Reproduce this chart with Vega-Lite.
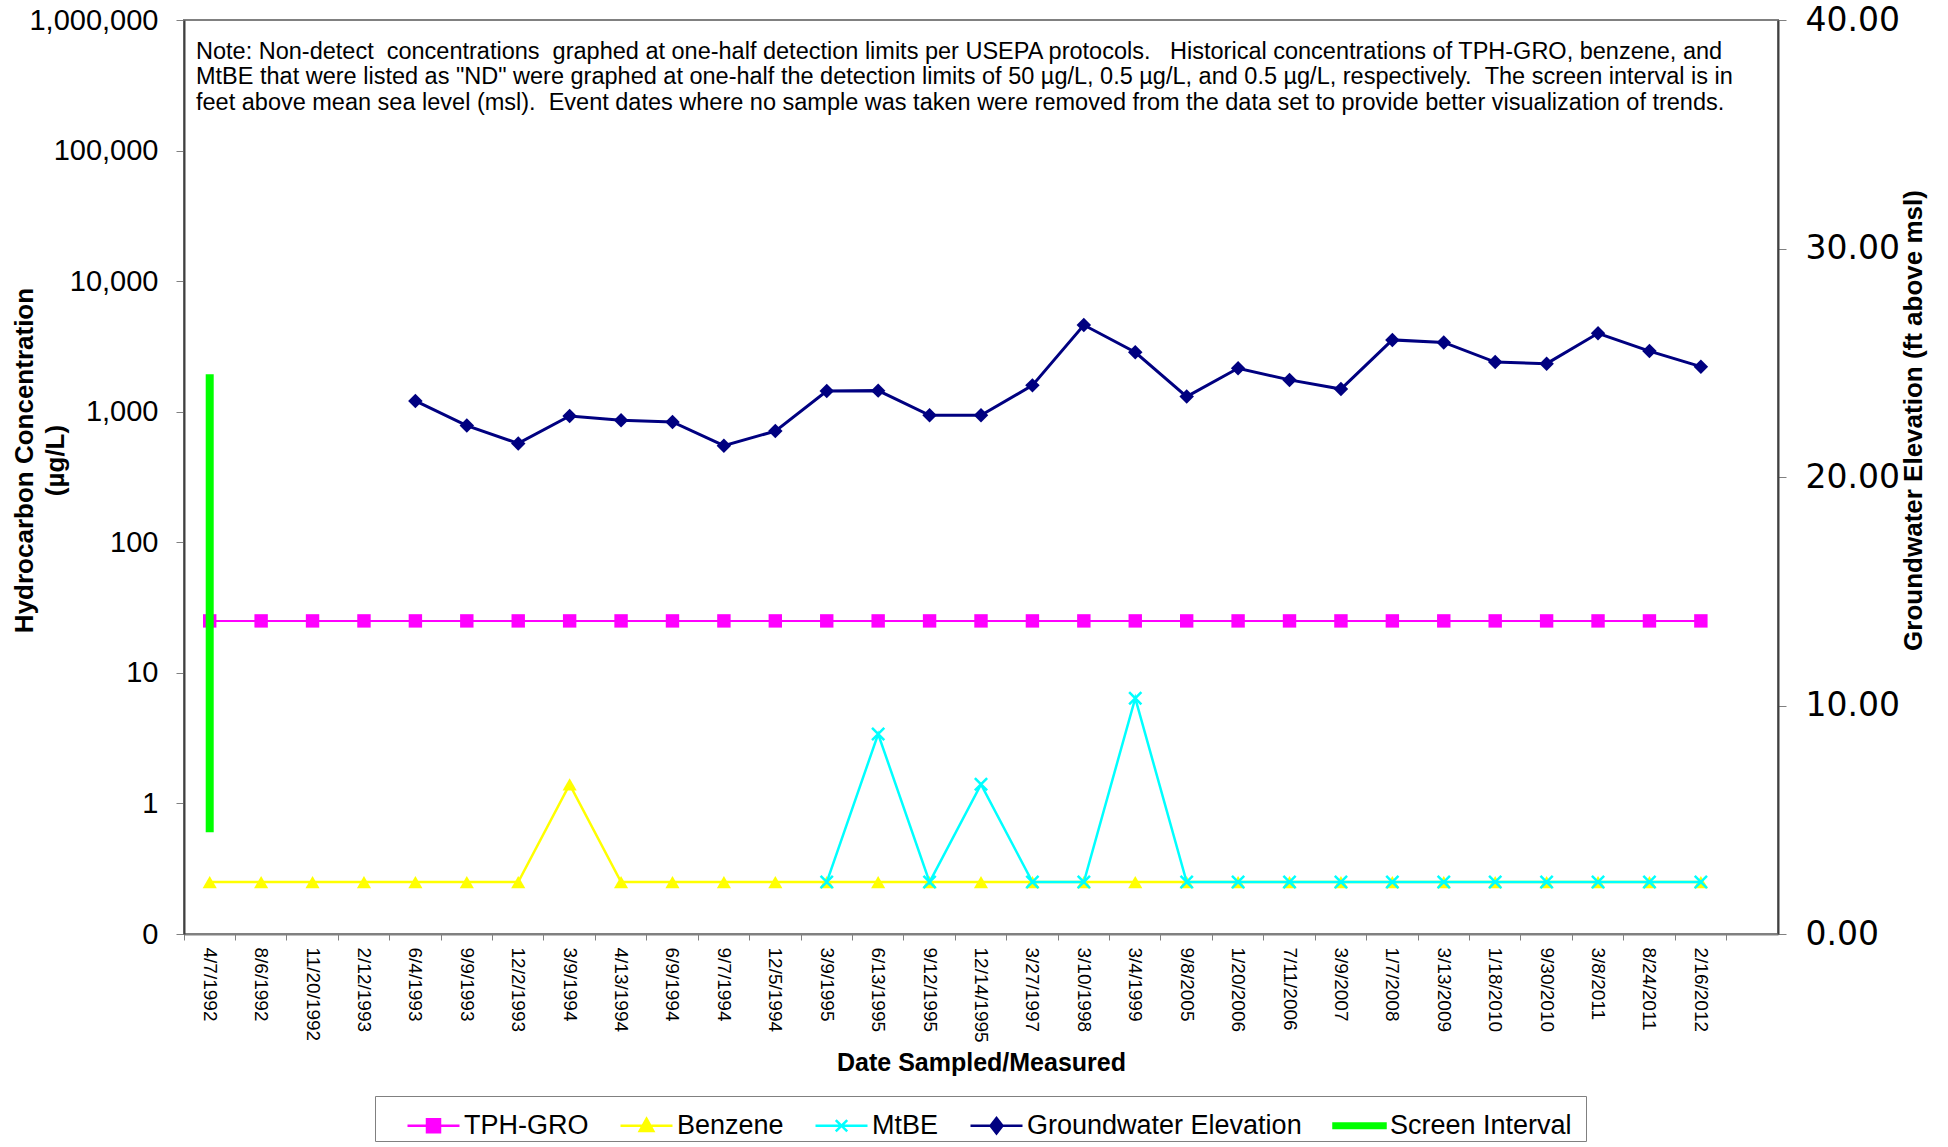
{
  "$schema": "https://vega.github.io/schema/vega-lite/v6.json",
  "width": 1594,
  "height": 914,
  "autosize": {"type": "none"},
  "padding": {"left": 184, "top": 20, "right": 170, "bottom": 213},
  "background": "white",
  "config": {
    "font": "Liberation Sans",
    "view": {"stroke": "#808080", "strokeWidth": 2},
    "axis": {"labelColor": "black", "titleColor": "black", "grid": false}
  },
  "datasets": {
    "main": [
      {"date": "4/7/1992", "tph": 25, "benzene": 0.25, "mtbe": null, "elev": null},
      {"date": "8/6/1992", "tph": 25, "benzene": 0.25, "mtbe": null, "elev": null},
      {"date": "11/20/1992", "tph": 25, "benzene": 0.25, "mtbe": null, "elev": null},
      {"date": "2/12/1993", "tph": 25, "benzene": 0.25, "mtbe": null, "elev": null},
      {"date": "6/4/1993", "tph": 25, "benzene": 0.25, "mtbe": null, "elev": 23.33},
      {"date": "9/9/1993", "tph": 25, "benzene": 0.25, "mtbe": null, "elev": 22.25},
      {"date": "12/2/1993", "tph": 25, "benzene": 0.25, "mtbe": null, "elev": 21.47},
      {"date": "3/9/1994", "tph": 25, "benzene": 1.4, "mtbe": null, "elev": 22.67},
      {"date": "4/13/1994", "tph": 25, "benzene": 0.25, "mtbe": null, "elev": 22.48},
      {"date": "6/9/1994", "tph": 25, "benzene": 0.25, "mtbe": null, "elev": 22.41},
      {"date": "9/7/1994", "tph": 25, "benzene": 0.25, "mtbe": null, "elev": 21.37},
      {"date": "12/5/1994", "tph": 25, "benzene": 0.25, "mtbe": null, "elev": 22.01},
      {"date": "3/9/1995", "tph": 25, "benzene": 0.25, "mtbe": 0.25, "elev": 23.76},
      {"date": "6/13/1995", "tph": 25, "benzene": 0.25, "mtbe": 3.4, "elev": 23.78},
      {"date": "9/12/1995", "tph": 25, "benzene": 0.25, "mtbe": 0.25, "elev": 22.7},
      {"date": "12/14/1995", "tph": 25, "benzene": 0.25, "mtbe": 1.4, "elev": 22.7},
      {"date": "3/27/1997", "tph": 25, "benzene": 0.25, "mtbe": 0.25, "elev": 24.01},
      {"date": "3/10/1998", "tph": 25, "benzene": 0.25, "mtbe": 0.25, "elev": 26.65},
      {"date": "3/4/1999", "tph": 25, "benzene": 0.25, "mtbe": 6.4, "elev": 25.46},
      {"date": "9/8/2005", "tph": 25, "benzene": 0.25, "mtbe": 0.25, "elev": 23.52},
      {"date": "1/20/2006", "tph": 25, "benzene": 0.25, "mtbe": 0.25, "elev": 24.76},
      {"date": "7/11/2006", "tph": 25, "benzene": 0.25, "mtbe": 0.25, "elev": 24.25},
      {"date": "3/9/2007", "tph": 25, "benzene": 0.25, "mtbe": 0.25, "elev": 23.85},
      {"date": "1/7/2008", "tph": 25, "benzene": 0.25, "mtbe": 0.25, "elev": 26.0},
      {"date": "3/13/2009", "tph": 25, "benzene": 0.25, "mtbe": 0.25, "elev": 25.89},
      {"date": "1/18/2010", "tph": 25, "benzene": 0.25, "mtbe": 0.25, "elev": 25.03},
      {"date": "9/30/2010", "tph": 25, "benzene": 0.25, "mtbe": 0.25, "elev": 24.96},
      {"date": "3/8/2011", "tph": 25, "benzene": 0.25, "mtbe": 0.25, "elev": 26.29},
      {"date": "8/24/2011", "tph": 25, "benzene": 0.25, "mtbe": 0.25, "elev": 25.51},
      {"date": "2/16/2012", "tph": 25, "benzene": 0.25, "mtbe": 0.25, "elev": 24.83}
    ]
  },
  "data": {"name": "main"},
  "encoding": {
    "x": {
      "field": "date",
      "type": "ordinal",
      "scale": {
        "type": "band",
        "domain": ["4/7/1992", "8/6/1992", "11/20/1992", "2/12/1993", "6/4/1993", "9/9/1993", "12/2/1993", "3/9/1994", "4/13/1994", "6/9/1994", "9/7/1994", "12/5/1994", "3/9/1995", "6/13/1995", "9/12/1995", "12/14/1995", "3/27/1997", "3/10/1998", "3/4/1999", "9/8/2005", "1/20/2006", "7/11/2006", "3/9/2007", "1/7/2008", "3/13/2009", "1/18/2010", "9/30/2010", "3/8/2011", "8/24/2011", "2/16/2012", "_end"],
        "paddingInner": 0,
        "paddingOuter": 0
      },
      "axis": {
        "title": "Date Sampled/Measured",
        "titleFontSize": 25,
        "titleFontWeight": "bold",
        "titleY": 128,
        "titleBaseline": "middle",
        "labelAngle": 90,
        "labelAlign": "left",
        "labelBaseline": "middle",
        "bandPosition": 0,
        "labelOffset": 0,
        "labelFontSize": 19,
        "labelPadding": 7,
        "tickSize": 6,
        "tickColor": "#808080",
        "domainColor": "#808080",
        "domainWidth": 2,
        "labelExpr": "datum.value == '_end' ? '' : datum.value"
      }
    }
  },
  "layer": [
    {
      "encoding": {
        "y": {
          "field": "value", "type": "quantitative",
          "scale": {"type": "log", "domain": [0.1, 1000000], "nice": false},
          "axis": {
            "values": [0.1, 1, 10, 100, 1000, 10000, 100000, 1000000],
            "labelExpr": "datum.value < 1 ? '0' : format(datum.value, ',')",
            "labelFontSize": 29,
            "labelPadding": 18,
            "tickSize": 8,
            "tickColor": "#808080",
            "domainColor": "#404040",
            "domainWidth": 2,
            "title": ["Hydrocarbon Concentration", "(µg/L)"],
            "titleFontSize": 26,
            "titleFontWeight": "bold",
            "titleAngle": 270,
            "titleX": -160,
            "titleY": 440,
            "titleAlign": "center",
            "titleBaseline": "middle",
            "titleLineHeight": 31
          }
        }
      },
      "layer": [
        {
          "transform": [{"fold": ["tph"], "as": ["series", "value"]}],
          "mark": {"type": "line", "color": "#FF00FF", "strokeWidth": 2}
        },
        {
          "transform": [{"fold": ["tph"], "as": ["series", "value"]}],
          "mark": {"type": "point", "shape": "square", "filled": true, "color": "#FF00FF", "size": 180, "opacity": 1}
        },
        {
          "transform": [{"fold": ["benzene"], "as": ["series", "value"]}],
          "mark": {"type": "line", "color": "#FFFF00", "strokeWidth": 2.5}
        },
        {
          "transform": [{"fold": ["benzene"], "as": ["series", "value"]}],
          "mark": {"type": "point", "shape": "triangle-up", "filled": true, "color": "#FFFF00", "size": 200, "opacity": 1}
        },
        {
          "transform": [{"fold": ["mtbe"], "as": ["series", "value"]}],
          "mark": {"type": "line", "color": "#00FFFF", "strokeWidth": 2.5}
        },
        {
          "transform": [{"fold": ["mtbe"], "as": ["series", "value"]}],
          "mark": {"type": "point", "shape": "M-1,-1L1,1M-1,1L1,-1", "filled": false, "color": "#00FFFF", "strokeWidth": 2.5, "size": 150, "opacity": 1}
        },
        {
          "data": {"values": [{"date": "4/7/1992", "value": 1000000}]},
          "mark": {
            "type": "text",
            "text": [
              "Note: Non-detect \u00a0concentrations \u00a0graphed at one-half detection limits per USEPA protocols. \u00a0 Historical concentrations of TPH-GRO, benzene, and",
              "MtBE that were listed as \"ND\" were graphed at one-half the detection limits of 50 µg/L, 0.5 µg/L, and 0.5 µg/L, respectively. \u00a0The screen interval is in",
              "feet above mean sea level (msl). \u00a0Event dates where no sample was taken were removed from the data set to provide better visualization of trends."
            ],
            "align": "left",
            "baseline": "alphabetic",
            "fontSize": 23.5,
            "lineHeight": 25.5,
            "color": "black",
            "dx": -13.7,
            "dy": 38.5
          }
        },
        {
          "data": {"values": []},
          "mark": {"type": "point", "filled": true, "strokeWidth": 2.5, "opacity": 1},
          "encoding": {
            "fill": {
              "field": "series", "type": "nominal",
              "scale": {"domain": ["TPH-GRO", "Benzene", "MtBE", "Groundwater Elevation", "Screen Interval"], "range": ["#FF00FF", "#FFFF00", "#00FFFF", "#000080", "#00FF00"]},
              "legend": {"orient": "none", "legendX": 191, "legendY": 1076, "direction": "horizontal", "title": "\u00a0", "titleOrient": "right", "titleFontSize": 26, "titlePadding": 12, "symbolSize": 2704, "symbolStrokeWidth": 2.5, "labelFontSize": 27, "labelColor": "black", "labelFont": "Liberation Sans", "labelLimit": 500, "labelOffset": 3, "symbolOffset": 29, "columnPadding": 1, "padding": 2, "strokeColor": "#808080", "fillColor": "white", "symbolOpacity": 1}
            },
            "stroke": {
              "field": "series", "type": "nominal",
              "scale": {"domain": ["TPH-GRO", "Benzene", "MtBE", "Groundwater Elevation", "Screen Interval"], "range": ["#FF00FF", "#FFFF00", "#00FFFF", "#000080", "#00FF00"]},
              "legend": {"orient": "none", "legendX": 191, "legendY": 1076, "direction": "horizontal", "title": "\u00a0", "titleOrient": "right", "titleFontSize": 26, "titlePadding": 12, "symbolSize": 2704, "symbolStrokeWidth": 2.5, "labelFontSize": 27, "labelColor": "black", "labelFont": "Liberation Sans", "labelLimit": 500, "labelOffset": 3, "symbolOffset": 29, "columnPadding": 1, "padding": 2, "strokeColor": "#808080", "fillColor": "white", "symbolOpacity": 1}
            },
            "shape": {
              "field": "series", "type": "nominal",
              "scale": {"domain": ["TPH-GRO", "Benzene", "MtBE", "Groundwater Elevation", "Screen Interval"], "range": [
                "M-1,0H1M-0.25,-0.25H0.25V0.25H-0.25Z",
                "M-1,0H1M0,-0.27L0.26,0.2H-0.26Z",
                "M-1,0H1M-0.22,-0.22L0.22,0.22M-0.22,0.22L0.22,-0.22",
                "M-1,0H1M0,-0.3L0.23,0L0,0.3L-0.23,0Z",
                "M-1,-0.09H1V0.09H-1Z"
              ]},
              "legend": {"orient": "none", "legendX": 191, "legendY": 1076, "direction": "horizontal", "title": "\u00a0", "titleOrient": "right", "titleFontSize": 26, "titlePadding": 12, "symbolSize": 2704, "symbolStrokeWidth": 2.5, "labelFontSize": 27, "labelColor": "black", "labelFont": "Liberation Sans", "labelLimit": 500, "labelOffset": 3, "symbolOffset": 29, "columnPadding": 1, "padding": 2, "strokeColor": "#808080", "fillColor": "white", "symbolOpacity": 1}
            }
          }
        }
      ]
    },
    {
      "encoding": {
        "y": {
          "field": "elev", "type": "quantitative",
          "scale": {"domain": [0, 40], "nice": false, "zero": true},
          "axis": {
            "orient": "right",
            "values": [0, 10, 20, 30, 40],
            "format": ".2f",
            "labelFont": "DejaVu Sans",
            "labelFontSize": 33,
            "labelPadding": 19,
            "tickSize": 8,
            "tickColor": "#808080",
            "domainColor": "#404040",
            "domainWidth": 2,
            "title": "Groundwater Elevation (ft above msl)",
            "titleFontSize": 26,
            "titleFontWeight": "bold",
            "titleAngle": 270,
            "titleX": 135,
            "titleY": 400,
            "titleAlign": "center",
            "titleBaseline": "middle"
          }
        }
      },
      "layer": [
        {
          "mark": {"type": "line", "color": "#000080", "strokeWidth": 3}
        },
        {
          "mark": {"type": "point", "shape": "diamond", "filled": true, "color": "#000080", "size": 210, "opacity": 1}
        },
        {
          "data": {"values": [{"date": "4/7/1992", "elev": 24.5, "bottom": 4.45}]},
          "mark": {"type": "rule", "color": "#00FF00", "strokeWidth": 8, "strokeCap": "butt"},
          "encoding": {
            "y2": {"field": "bottom"}
          }
        }
      ]
    }
  ],
  "resolve": {"scale": {"y": "independent"}}
}
